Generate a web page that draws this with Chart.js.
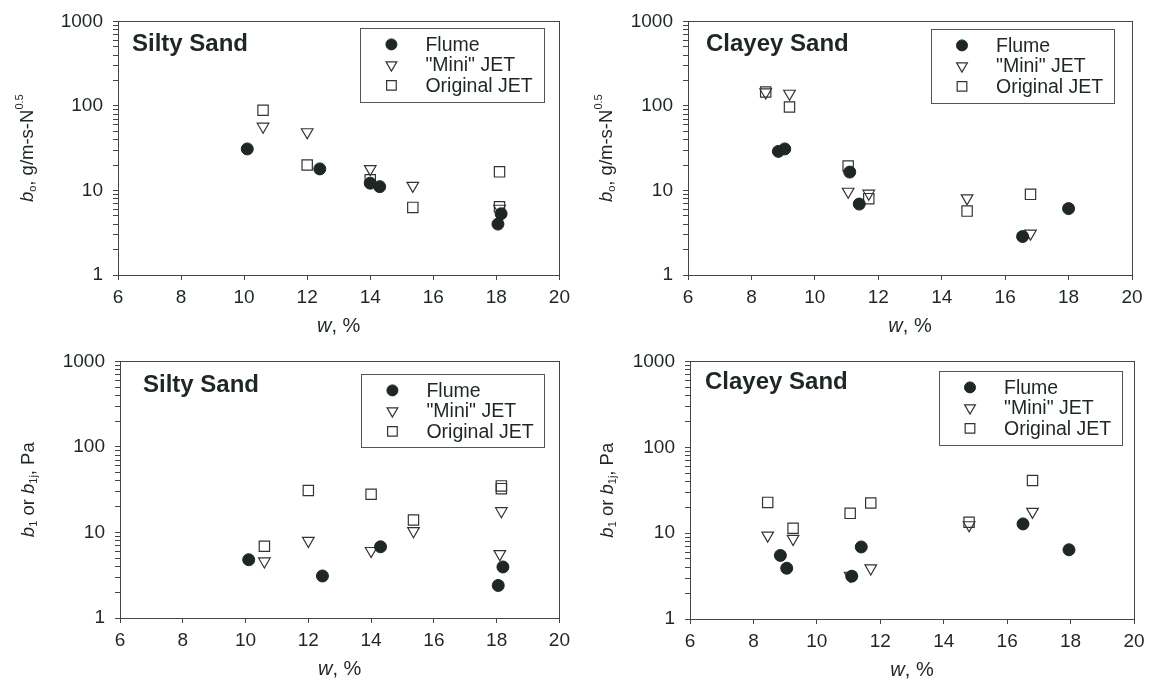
<!DOCTYPE html>
<html>
<head>
<meta charset="utf-8">
<title>Erodibility parameters vs. water content</title>
<script src="https://cdn.jsdelivr.net/npm/chart.js@4.4.1/dist/chart.umd.min.js"></script>
<style>
  html, body { margin: 0; padding: 0; background: #fff; }
  #wrap { position: relative; width: 1153px; height: 680px; overflow: hidden; }
  #wrap canvas { position: absolute; }
</style>
</head>
<body>
<div id="wrap">
  <canvas id="c-silty-bo"   width="576" height="340" style="left:0;top:0"></canvas>
  <canvas id="c-clayey-bo"  width="577" height="340" style="left:576px;top:0"></canvas>
  <canvas id="c-silty-b1"   width="576" height="340" style="left:0;top:340px"></canvas>
  <canvas id="c-clayey-b1"  width="577" height="340" style="left:576px;top:340px"></canvas>
</div>
<script>
"use strict";

// ── Data: [w (%), value] ─────────────────────────────────────────────────────

const seriesLabels = ["Flume", "\"Mini\" JET", "Original JET"];
const wTicks = [6, 8, 10, 12, 14, 16, 18, 20];
const logTicks = [1, 10, 100, 1000];
const minorSteps = [2, 3, 4, 5, 6, 7, 8, 9];

// b_o, g/m-s-N^0.5
const siltyBoFlume = [[10.1, 31], [12.4, 18], [14.0, 12.2], [14.3, 11.1], [18.05, 4.0], [18.15, 5.3]];
const siltyBoMini  = [[10.6, 57], [12.0, 49], [14.0, 18], [15.35, 11.4], [18.1, 6.1]];
const siltyBoOrig  = [[10.6, 89], [12.0, 20], [14.0, 13.4], [15.35, 6.3], [18.1, 16.6], [18.1, 6.4]];

const clayeyBoFlume = [[8.85, 29], [9.05, 31], [11.1, 16.5], [11.4, 6.9], [16.55, 2.85], [18.0, 6.1]];
const clayeyBoMini  = [[8.45, 145], [9.2, 140], [11.05, 9.7], [11.7, 9.2], [14.8, 8.1], [16.8, 3.1]];
const clayeyBoOrig  = [[8.45, 146], [9.2, 97], [11.05, 19.5], [11.7, 8.0], [14.8, 5.7], [16.8, 9.0]];

// b_1 or b_1j, Pa
const siltyB1Flume = [[10.1, 4.8], [12.45, 3.1], [14.3, 6.8], [18.05, 2.4], [18.2, 3.95]];
const siltyB1Mini  = [[10.6, 4.6], [12.0, 8.0], [14.0, 6.1], [15.35, 10.4], [18.15, 17.8], [18.1, 5.6]];
const siltyB1Orig  = [[10.6, 6.9], [12.0, 30.9], [14.0, 28], [15.35, 14], [18.15, 35], [18.15, 32.5]];

const clayeyB1Flume = [[8.85, 5.5], [9.05, 3.9], [11.1, 3.15], [11.4, 6.9], [16.5, 12.8], [17.95, 6.4]];
const clayeyB1Mini  = [[8.45, 9.4], [9.25, 8.6], [11.05, 3.2], [11.7, 3.9], [14.8, 12.4], [16.8, 17.8]];
const clayeyB1Orig  = [[8.45, 22.8], [9.25, 11.4], [11.05, 17], [11.7, 22.4], [14.8, 13.4], [16.8, 41]];

// ── Styles ────────────────────────────────────────────────────────────────────

const INK = "#1e2626";
const AXIS = "#454545";
const FONT = "'Liberation Sans', Arial, Helvetica, sans-serif";

const MARKERS = [
  { pointStyle: "circle",   radius: 6,   rotation: 0,   fill: INK,             stroke: INK,    width: 1 },
  { pointStyle: "triangle", radius: 6.7, rotation: 180, fill: "rgba(0,0,0,0)", stroke: "#333", width: 1.2 },
  { pointStyle: "rect",     radius: 7.3, rotation: 0,   fill: "rgba(0,0,0,0)", stroke: "#333", width: 1.2 },
];

const Y_TITLE_BO = [
  { t: "b", it: true }, { t: "o", sub: true }, { t: ", g/m-s-N" }, { t: "0.5", sup: true },
];
const Y_TITLE_B1 = [
  { t: "b", it: true }, { t: "1", sub: true }, { t: " or " },
  { t: "b", it: true }, { t: "1j", sub: true }, { t: ", Pa" },
];
const X_TITLE = [{ t: "w", it: true }, { t: ", %" }];

// major decades plus 2..9 minor marks between them
const yTickValues = logTicks.flatMap((d, i) =>
  i < logTicks.length - 1 ? [d, ...minorSteps.map((m) => d * m)] : [d]);

// ── Rich text helper (italics / sub / superscripts) ──────────────────────────

function richFont(p, size) {
  const s = p.sub || p.sup ? Math.round(size * 0.62) : size;
  return `${p.it ? "italic " : ""}${s}px ${FONT}`;
}

function richWidth(ctx, parts, size) {
  return parts.reduce((w, p) => {
    ctx.font = richFont(p, size);
    return w + ctx.measureText(p.t).width;
  }, 0);
}

function drawRich(ctx, parts, x, y, size) {
  let cx = x;
  parts.forEach((p) => {
    ctx.font = richFont(p, size);
    const dy = p.sub ? size * 0.28 : p.sup ? -size * 0.42 : 0;
    ctx.fillText(p.t, cx, y + dy);
    cx += ctx.measureText(p.t).width;
  });
}

// ── Plugin: frame, panel title, legend box, axis titles ──────────────────────

const panelDecor = {
  id: "panelDecor",
  afterDraw(chart, args, o) {
    const { ctx, chartArea: a } = chart;
    ctx.save();

    ctx.strokeStyle = AXIS;
    ctx.lineWidth = 1;
    ctx.strokeRect(Math.round(a.left) + 0.5, Math.round(a.top) + 0.5,
      Math.round(a.right - a.left), Math.round(a.bottom - a.top));

    ctx.fillStyle = INK;
    ctx.textBaseline = "alphabetic";
    ctx.textAlign = "left";
    ctx.font = `bold 24px ${FONT}`;
    ctx.fillText(o.title, a.left + o.titleX, a.top + o.titleY);

    // legend
    const lx = a.right - o.legendRight - o.legendW;
    const ly = a.top + o.legendTop;
    ctx.strokeStyle = "#555";
    ctx.lineWidth = 1;
    ctx.strokeRect(Math.round(lx) + 0.5, Math.round(ly) + 0.5, o.legendW, o.legendH);
    ctx.textBaseline = "middle";
    seriesLabels.forEach((label, i) => {
      const m = MARKERS[i];
      const y = ly + 16 + i * 20.5;
      ctx.fillStyle = m.fill;
      ctx.strokeStyle = m.stroke;
      ctx.lineWidth = m.width;
      Chart.helpers.drawPoint(ctx, {
        pointStyle: m.pointStyle, radius: m.radius - 0.5, rotation: m.rotation, borderWidth: m.width,
      }, lx + 31, y);
      ctx.fillStyle = INK;
      ctx.font = `19.5px ${FONT}`;
      ctx.fillText(label, lx + 65, y + 1);
    });

    // x title
    ctx.textBaseline = "alphabetic";
    const xs = 20;
    const xw = richWidth(ctx, X_TITLE, xs);
    drawRich(ctx, X_TITLE, (a.left + a.right) / 2 - xw / 2, a.bottom + 57, xs);

    // y title (rotated)
    const ys = 18.5;
    const yw = richWidth(ctx, o.yTitle, ys);
    ctx.translate(o.yTitleX, (a.top + a.bottom) / 2);
    ctx.rotate(-Math.PI / 2);
    ctx.textBaseline = "middle";
    drawRich(ctx, o.yTitle, -yw / 2, 0, ys);

    ctx.restore();
  },
};

// ── Chart factory ─────────────────────────────────────────────────────────────

function toPoints(pairs) {
  return pairs.map(([x, y]) => ({ x, y }));
}

function makePanel(id, series, p) {
  const datasets = series.map((pairs, i) => {
    const m = MARKERS[i];
    return {
      label: seriesLabels[i],
      data: toPoints(pairs),
      pointStyle: m.pointStyle,
      pointRadius: m.radius,
      pointRotation: m.rotation,
      backgroundColor: m.fill,
      borderColor: m.stroke,
      borderWidth: m.width,
      showLine: false,
    };
  });

  const tickFont = { family: FONT, size: 19 };

  return new Chart(document.getElementById(id), {
    type: "scatter",
    data: { datasets },
    plugins: [panelDecor],
    options: {
      responsive: false,
      animation: false,
      events: [],
      layout: { padding: { top: p.padTop, right: p.padRight, left: 0, bottom: 0 } },
      scales: {
        x: {
          type: "linear",
          min: 6,
          max: 20,
          afterBuildTicks: (s) => { s.ticks = wTicks.map((v) => ({ value: v })); },
          afterFit: (s) => { s.height = p.xAxisH; },
          border: { display: false },
          grid: { drawOnChartArea: false, drawTicks: true, tickLength: 5, color: AXIS },
          ticks: { color: INK, font: tickFont, padding: 6, maxRotation: 0 },
        },
        y: {
          type: "logarithmic",
          min: 1,
          max: 1000,
          afterBuildTicks: (s) => { s.ticks = yTickValues.map((v) => ({ value: v })); },
          afterFit: (s) => { s.width = p.yAxisW; },
          border: { display: false },
          grid: { drawOnChartArea: false, drawTicks: true, tickLength: 5, color: AXIS },
          ticks: {
            color: INK,
            font: tickFont,
            padding: 10,
            autoSkip: false,
            callback: (v) => (logTicks.includes(v) ? String(v) : ""),
          },
        },
      },
      plugins: {
        legend: { display: false },
        tooltip: { enabled: false },
        panelDecor: p,
      },
    },
  });
}

// ── Panels ────────────────────────────────────────────────────────────────────

makePanel("c-silty-bo", [siltyBoFlume, siltyBoMini, siltyBoOrig], {
  title: "Silty Sand", titleX: 14, titleY: 30,
  legendRight: 15, legendTop: 7, legendW: 184, legendH: 74,
  yTitle: Y_TITLE_BO, yTitleX: 28,
  padTop: 16, padRight: 14, yAxisW: 118, xAxisH: 65,
});

makePanel("c-clayey-bo", [clayeyBoFlume, clayeyBoMini, clayeyBoOrig], {
  title: "Clayey Sand", titleX: 18, titleY: 30,
  legendRight: 18, legendTop: 8, legendW: 183, legendH: 74,
  yTitle: Y_TITLE_BO, yTitleX: 31,
  padTop: 16, padRight: 21, yAxisW: 112, xAxisH: 65,
});

makePanel("c-silty-b1", [siltyB1Flume, siltyB1Mini, siltyB1Orig], {
  title: "Silty Sand", titleX: 23, titleY: 31,
  legendRight: 15, legendTop: 13, legendW: 183, legendH: 73,
  yTitle: Y_TITLE_B1, yTitleX: 29,
  padTop: 19, padRight: 13, yAxisW: 120, xAxisH: 62,
});

makePanel("c-clayey-b1", [clayeyB1Flume, clayeyB1Mini, clayeyB1Orig], {
  title: "Clayey Sand", titleX: 15, titleY: 28,
  legendRight: 12, legendTop: 10, legendW: 183, legendH: 74,
  yTitle: Y_TITLE_B1, yTitleX: 32,
  padTop: 20, padRight: 19, yAxisW: 114, xAxisH: 61,
});
</script>
</body>
</html>
